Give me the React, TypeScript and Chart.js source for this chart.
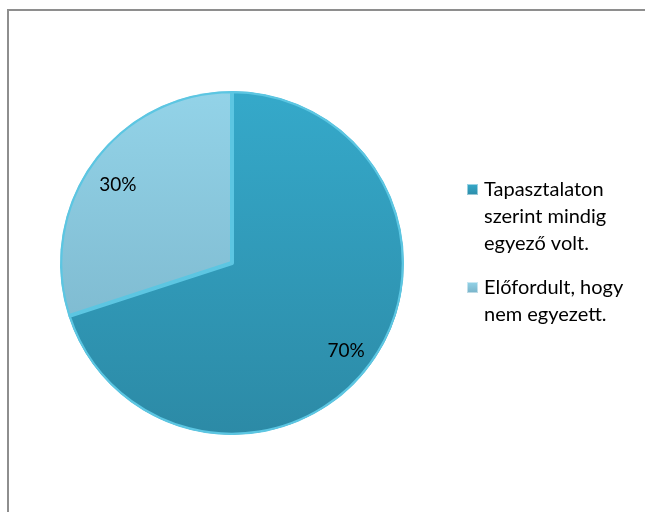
import React, { useEffect, useRef } from "react";
import { Chart, registerables } from "chart.js";

Chart.register(...registerables);

const categories = ["Tapasztalaton szerint mindig egyező volt.", "Előfordult, hogy nem egyezett."];
const legendLines = [
  ["Tapasztalaton", "szerint mindig", "egyező volt."],
  ["Előfordult, hogy", "nem egyezett."],
];
const values = [70, 30];
const valueLabels = ["70%", "30%"];
const colorsTop = ["#35A9CA", "#93D3E8"];
const colorsBottom = ["#2C8AA6", "#76B0C6"];

const FONT = "Lato, 'Open Sans', 'Liberation Sans', sans-serif";

const labelPlugin = {
  id: "valueLabels",
  afterDatasetsDraw(chart: any) {
    const ctx = chart.ctx;
    const meta = chart.getDatasetMeta(0);
    ctx.save();
    ctx.fillStyle = "#000";
    ctx.font = `19px ${FONT}`;
    ctx.textAlign = "center";
    ctx.textBaseline = "middle";
    meta.data.forEach((arc: any, i: number) => {
      const p = arc.getProps(["x", "y", "startAngle", "endAngle", "outerRadius"], true);
      const mid = (p.startAngle + p.endAngle) / 2;
      const r = p.outerRadius * 0.82;
      ctx.fillText(valueLabels[i], p.x + Math.cos(mid) * r, p.y + Math.sin(mid) * r + 5);
    });
    ctx.restore();
  },
};

const legendPlugin = {
  id: "sideLegend",
  afterDraw(chart: any) {
    const ctx = chart.ctx;
    ctx.save();
    ctx.font = `20px ${FONT}`;
    ctx.textBaseline = "middle";
    ctx.textAlign = "left";
    const x0 = 467;
    const starts = [190, 288];
    const lh = 27;
    legendLines.forEach((lines, i) => {
      const y = starts[i];
      const g = ctx.createLinearGradient(0, y - 6, 0, y + 6);
      g.addColorStop(0, colorsTop[i]);
      g.addColorStop(1, colorsBottom[i]);
      ctx.fillStyle = g;
      ctx.fillRect(x0, y - 6, 11, 11);
      ctx.strokeStyle = "rgba(255,255,255,0.5)";
      ctx.lineWidth = 1;
      ctx.strokeRect(x0 + 0.5, y - 5.5, 10, 10);
      ctx.fillStyle = "#000";
      lines.forEach((t, j) => ctx.fillText(t, x0 + 17, y + j * lh));
    });
    ctx.restore();
  },
};

export default function App() {
  const ref = useRef<HTMLCanvasElement>(null);
  useEffect(() => {
    if (!ref.current) return;
    const chart = new Chart(ref.current, {
      type: "pie",
      data: {
        labels: categories,
        datasets: [
          {
            data: values,
            backgroundColor: (c: any) => {
              const ch = c.chart;
              const area = ch.chartArea;
              if (!area) return colorsTop[c.dataIndex];
              const g = ch.ctx.createLinearGradient(0, area.top, 0, area.bottom);
              g.addColorStop(0, colorsTop[c.dataIndex]);
              g.addColorStop(1, colorsBottom[c.dataIndex]);
              return g;
            },
            borderColor: "#5CC6E2",
            borderWidth: 2,
            borderAlign: "inner",
          } as any,
        ],
      },
      options: {
        responsive: false,
        animation: false,
        layout: { padding: { left: 60, right: 241, top: 91, bottom: 77 } },
        plugins: { legend: { display: false }, tooltip: { enabled: false } },
      },
      plugins: [labelPlugin, legendPlugin],
    });
    return () => chart.destroy();
  }, []);
  return (
    <div style={{ position: "fixed", left: 0, top: 0, width: 645, height: 512, background: "#fff", overflow: "hidden" }}>
      <div
        style={{
          position: "absolute",
          left: 7,
          top: 9,
          width: 660,
          height: 520,
          border: "2px solid #8E8E8E",
          boxSizing: "border-box",
        }}
      />
      <canvas ref={ref} width={645} height={512} style={{ position: "absolute", left: 0, top: 0 }} />
    </div>
  );
}
